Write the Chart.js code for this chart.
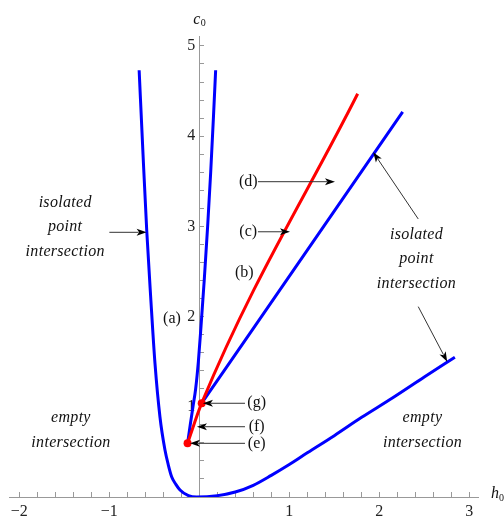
<!DOCTYPE html>
<html>
<head>
<meta charset="utf-8">
<script src="https://cdn.jsdelivr.net/npm/chart.js@4.4.1/dist/chart.umd.min.js"></script>
<style>
  html, body { margin: 0; padding: 0; background: #fff; }
</style>
</head>
<body>
<canvas id="chart" width="504" height="522"></canvas>
<script>
// Curve data as [h0, c0] pairs
const outerCurve = [
  [-0.668, 4.73], [-0.625, 3.8], [-0.584, 2.96], [-0.54, 2.22], [-0.492, 1.48],
  [-0.437, 0.89], [-0.381, 0.52], [-0.345, 0.36], [-0.307, 0.225], [-0.26, 0.14],
  [-0.214, 0.078], [-0.12, 0.015], [-0.03, 0], [0.2, 0.015], [0.4, 0.055],
  [0.6, 0.13], [0.8, 0.24], [1.0, 0.36], [1.2, 0.49], [1.5, 0.68],
  [1.8, 0.88], [2.15, 1.1], [2.5, 1.33], [2.84, 1.55]
];
const innerCurve = [
  [-0.13, 0.595], [-0.1, 0.8], [-0.07, 1.0], [-0.04, 1.2], [-0.01, 1.5],
  [0.02, 1.9], [0.055, 2.4], [0.093, 3.0], [0.127, 3.6], [0.157, 4.2], [0.182, 4.73]
];
const blueLine = [[0.027, 1.04], [2.26, 4.27]];
const redLine = [[-0.13, 0.595], [0.027, 1.04], [1.76, 4.47]];
const redPoints = [[-0.13, 0.595], [0.027, 1.04]];

// Axis ranges and ticks
const xRange = [-2.114, 3.097];
const yRange = [0, 5.11];
const tickStep = 0.2;

// Annotation texts: [text, h0, c0, italic]
const labels = [
  ['isolated', -1.49, 3.26, true], ['point', -1.49, 2.99, true], ['intersection', -1.49, 2.72, true],
  ['isolated', 2.413, 2.905, true], ['point', 2.413, 2.639, true], ['intersection', 2.413, 2.361, true],
  ['empty', -1.426, 0.876, true], ['intersection', -1.426, 0.599, true],
  ['empty', 2.48, 0.876, true], ['intersection', 2.48, 0.599, true],
  ['(a)', -0.303, 1.97, false], ['(b)', 0.5, 2.48, false],
  ['(c)', 0.544, 2.94, false], ['(d)', 0.544, 3.495, false],
  ['(g)', 0.638, 1.039, false], ['(f)', 0.638, 0.779, false], ['(e)', 0.638, 0.595, false]
];
// Arrows: [fromH, fromC, toH, toC]
const arrows = [
  [-0.999, 2.934, -0.585, 2.934],
  [2.433, 3.082, 1.933, 3.822],
  [2.433, 2.11, 2.755, 1.499],
  [0.652, 2.94, 1.008, 2.94],
  [0.652, 3.495, 1.508, 3.495],
  [0.508, 1.039, 0.041, 1.039],
  [0.508, 0.779, -0.026, 0.779],
  [0.508, 0.595, -0.103, 0.595]
];

const toXY = pts => pts.map(p => ({ x: p[0], y: p[1] }));
const isWhole = v => Math.abs(v - Math.round(v)) < 1e-6;
const serif = '"Liberation Serif", "Times New Roman", serif';

function drawArrow(ctx, x1, y1, x2, y2) {
  const ang = Math.atan2(y2 - y1, x2 - x1);
  const len = 10, half = 3.5;
  ctx.strokeStyle = '#333';
  ctx.lineWidth = 1;
  ctx.beginPath();
  ctx.moveTo(x1, y1);
  ctx.lineTo(x2 - Math.cos(ang) * len * 0.8, y2 - Math.sin(ang) * len * 0.8);
  ctx.stroke();
  ctx.fillStyle = '#000';
  ctx.beginPath();
  ctx.moveTo(x2, y2);
  ctx.lineTo(x2 - Math.cos(ang) * len - Math.sin(ang) * half, y2 - Math.sin(ang) * len + Math.cos(ang) * half);
  ctx.lineTo(x2 - Math.cos(ang) * len * 0.75, y2 - Math.sin(ang) * len * 0.75);
  ctx.lineTo(x2 - Math.cos(ang) * len + Math.sin(ang) * half, y2 - Math.sin(ang) * len - Math.cos(ang) * half);
  ctx.closePath();
  ctx.fill();
}

// Draws the region labels, arrows and axis names
const annotationPlugin = {
  id: 'annotations',
  afterDraw(chart) {
    const ctx = chart.ctx;
    const xs = chart.scales.x, ys = chart.scales.y;
    ctx.save();
    ctx.textAlign = 'center';
    ctx.textBaseline = 'middle';
    labels.forEach(([t, h, c, it]) => {
      ctx.font = (it ? 'italic ' : '') + '16px ' + serif;
      ctx.letterSpacing = it ? '0.3px' : '0px';
      ctx.fillStyle = '#111';
      ctx.fillText(t, xs.getPixelForValue(h), ys.getPixelForValue(c));
    });
    ctx.letterSpacing = '0px';
    arrows.forEach(([h1, c1, h2, c2]) => {
      drawArrow(ctx, xs.getPixelForValue(h1), ys.getPixelForValue(c1),
        xs.getPixelForValue(h2), ys.getPixelForValue(c2));
    });

    // axis names c0 and h0
    const x0 = xs.getPixelForValue(0);
    ctx.fillStyle = '#111';
    ctx.textAlign = 'left';
    ctx.font = 'italic 16px ' + serif;
    ctx.fillText('c', x0 - 6, chart.chartArea.top - 16);
    ctx.font = '10px ' + serif;
    ctx.fillText('0', x0 + 1.5, chart.chartArea.top - 13);
    const y0 = ys.getPixelForValue(0);
    ctx.font = 'italic 16px ' + serif;
    ctx.fillText('h', chart.chartArea.right + 13, y0 - 3);
    ctx.font = '10px ' + serif;
    ctx.fillText('0', chart.chartArea.right + 21, y0 + 1);
    ctx.restore();
  }
};

const lineStyle = (data, color) => ({
  data: toXY(data),
  showLine: true,
  borderColor: color,
  backgroundColor: color,
  borderWidth: 3,
  pointRadius: 0,
  cubicInterpolationMode: 'monotone'
});

new Chart(document.getElementById('chart'), {
  type: 'scatter',
  data: {
    datasets: [
      {
        data: toXY(redPoints),
        pointRadius: 4,
        pointBackgroundColor: '#ff0000',
        pointBorderWidth: 0,
        showLine: false
      },
      lineStyle(redLine, '#ff0000'),
      lineStyle(blueLine, '#0000ff'),
      lineStyle(innerCurve, '#0000ff'),
      lineStyle(outerCurve, '#0000ff')
    ]
  },
  options: {
    responsive: false,
    animation: false,
    devicePixelRatio: 1,
    layout: { padding: { left: 9, right: 26, top: 36, bottom: 0 } },
    plugins: { legend: { display: false }, tooltip: { enabled: false } },
    scales: {
      x: {
        type: 'linear',
        position: 'bottom',
        min: xRange[0],
        max: xRange[1],
        afterFit(scale) { scale.height = 25; },
        border: { color: '#999', width: 1 },
        grid: { drawOnChartArea: false, tickLength: -5, tickColor: '#999' },
        ticks: {
          stepSize: tickStep,
          includeBounds: false,
          autoSkip: false,
          maxRotation: 0,
          padding: 10,
          color: '#222',
          font: { family: serif, size: 16 },
          callback: v => (isWhole(v) && Math.round(v) !== 0)
            ? (v < 0 ? '\u2212' + Math.abs(Math.round(v)) : String(Math.round(v))) : ''
        }
      },
      y: {
        type: 'linear',
        position: { x: 0 },
        min: yRange[0],
        max: yRange[1],
        border: { color: '#999', width: 1 },
        grid: { drawOnChartArea: false, tickLength: -5, tickColor: '#999' },
        ticks: {
          stepSize: tickStep,
          includeBounds: false,
          autoSkip: false,
          color: '#222',
          font: { family: serif, size: 16 },
          callback: v => (isWhole(v) && Math.round(v) !== 0) ? String(Math.round(v)) + ' ' : ''
        }
      }
    }
  },
  plugins: [annotationPlugin]
});
</script>
</body>
</html>
